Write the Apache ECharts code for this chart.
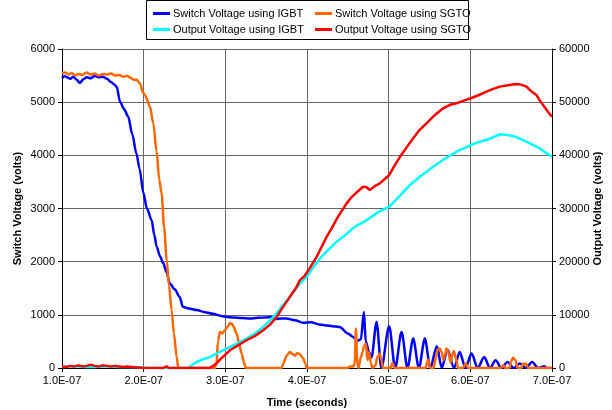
<!DOCTYPE html>
<html>
<head>
<meta charset="utf-8">
<script src="https://cdn.jsdelivr.net/npm/echarts@6/dist/echarts.min.js"></script>
<style>
html,body{margin:0;padding:0;background:#fff;}
#chart{width:612px;height:410px;}
</style>
</head>
<body>
<div id="chart"></div>
<script>
// Time in units of 1e-9 s (ns); tick labels shown in E-07 form
const xTickLabels = ['1.0E-07','2.0E-07','3.0E-07','4.0E-07','5.0E-07','6.0E-07','7.0E-07'];
const seriesNames = ['Switch Voltage using IGBT','Switch Voltage using SGTO','Output Voltage using IGBT','Output Voltage using SGTO'];

// Switch Voltage using IGBT (left axis, volts)
const switchIGBT = [
 [100,5450],[103,5490],[106,5470],[110,5440],[114,5480],[118,5420],[122,5360],[126,5430],[130,5470],
 [135,5450],[140,5490],[145,5470],[150,5480],[155,5440],[160,5380],[164,5330],[167,5290],[171,5010],
 [176,4870],[181,4730],[186,4400],[191,4040],[195,3750],[199.5,3300],[204,3000],[209.8,2780],[213,2500],
 [216,2280],[220,2100],[224,1970],[228,1800],[232,1590],[238,1480],[244,1340],[248,1150],[255,1120],
 [265,1090],[275,1050],[285,1020],[295,980],[302,960],[310,950],[320,940],[330,930],[340,945],[350,950],
 [355,960],[362,920],[368,930],[375,930],[385,900],[395,850],[405,860],[415,820],[425,800],[435,780],
 [440,770],[450,650],[456,590],[462,510],[466,540],[469.6,1055],[472,500],[476,300],[479,200],
 [485.2,866],[491,0],[500.6,785],[508,0],[515.8,678],[523,0],[530,553],[537,0],[544.3,553],[551,0],
 [559,409],[565,0],[572,346],[580,0],[587,301],[594,0],[601.5,271],[609,0],[617,207],[624,0],
 [631,145],[638,0],[645.6,113],[653,0],[660.6,83],[668,0],[675.7,113],[683,0],[690.4,32],[693,0],[700,0]
];

// Switch Voltage using SGTO (left axis, volts)
const switchSGTO = [
 [100,5540],[104,5560],[108,5520],[112,5550],[116,5500],[120,5530],[125,5510],[130,5560],[135,5520],
 [140,5540],[145,5500],[150,5530],[155,5520],[160,5540],[165,5500],[170,5510],[175,5480],[180,5490],
 [185,5450],[188,5420],[191.4,5420],[195.5,5350],[199,5180],[201.6,5136],[204,5050],[207.7,4915],
 [211.8,4600],[215.9,4070],[219,3550],[222,3284],[225,2650],[228.2,2028],[231,1550],[234.3,1087],
 [237,650],[240.4,207],[242.4,0],[250,0],[270,0],[287,0],[289,80],[291,500],[293.4,678],[296,650],
 [299.5,710],[303,780],[305.5,840],[307.7,836],[310,780],[313.8,648],[317,450],[319.9,271],[323,100],
 [325.2,0],[340,0],[369,0],[371,83],[375,230],[379,301],[382,270],[385.2,230],[388,280],[391.3,260],
 [395.4,177],[398,80],[399.5,0],[450,0],[453,30],[457,30],[458.5,100],[459.9,742],[461.5,100],[463,0],
 [466,200],[468,300],[470,420],[472.1,459],[474,150],[476.2,301],[478,100],[480,0],[484,50],[486,200],
 [489.2,271],[491,150],[493,0],[502,0],[504.8,94],[507,0],[545,0],[548.4,158],[551,0],[555,0],
 [558,200],[560,350],[562.7,365],[565,300],[567,150],[569,250],[570.9,365],[573,300],[576,100],
 [578,250],[579.8,320],[582,200],[585,0],[591,0],[594.5,94],[597,0],[637,0],[640.2,51],[643,0],
 [648,0],[650,120],[652.4,196],[655,150],[658,0],[662,0],[664.6,83],[666,60],[668,83],[671,0],[700,0]
];

// Output Voltage using IGBT (right axis, volts)
const outputIGBT = [
 [100,200],[110,300],[120,300],[130,200],[140,200],[150,300],[160,300],[170,200],[180,200],[190,200],
 [200,100],[205,0],[254.6,0],[260,600],[264.9,1130],[272,1600],[281.2,2070],[290,2800],[301.6,3650],
 [313,4500],[326,5530],[336,6500],[346.4,7720],[355,9000],[362.8,10240],[370,11700],[379,13370],
 [391.3,15890],[399.5,17140],[408,19000],[415.8,20600],[426,22200],[435,23600],[444.3,24670],
 [458,26500],[473,27810],[487,29300],[500.6,30320],[513,32300],[526,34410],[540,36200],[554.5,37850],
 [568,39300],[583.1,40680],[600.6,41940],[610,42500],[619.8,42880],[628,43400],[636.1,43950],
 [645,43800],[652.4,43630],[660,43200],[668.8,42560],[676,42000],[685,41320],[692,40500],[700,39740]
];

// Output Voltage using SGTO (right axis, volts)
const outputSGTO = [
 [100,300],[105,200],[110,400],[115,300],[120,500],[125,300],[130,400],[135,600],[140,400],[145,300],
 [150,500],[155,400],[160,300],[165,400],[170,300],[175,200],[180,300],[185,200],[190,100],[195,100],
 [200,0],[224,0],[228,300],[231,0],[281,0],[285,400],[290,1000],[295,1800],[300,2500],[305.6,3330],
 [315,4200],[326,5220],[336,6000],[346.4,7100],[355,8200],[362.8,9600],[370,11300],[379,13370],
 [387,15200],[391.3,16520],[397,17300],[403,18700],[411.8,20900],[418,22800],[424,24670],[430,26200],
 [437,28200],[448.5,30960],[455,32200],[462,33200],[468.8,34090],[473,34000],[477,33470],[483,34200],
 [489.2,34730],[495,35500],[500.6,36290],[507,38000],[514,39740],[522,41500],[530,43200],[538,44800],
 [546.4,46030],[556,47500],[566.7,48850],[575,49500],[583.1,49790],[592,50300],[600.6,50730],
 [610,51300],[619.8,51980],[628,52500],[636.1,52920],[646,53200],[656.5,53420],[662,53300],
 [668.8,52920],[675,52000],[681,51360],[685,50300],[689.1,49470],[695,48200],[700,47270]
];

const colors = ['#0000FF','#FF6600','#00FFFF','#FF0000'];
const FONT = '"Liberation Sans", Arial, sans-serif';

const chart = echarts.init(document.getElementById('chart'), null, {renderer:'canvas'});
const gridLine = {show:true, lineStyle:{color:'#666', width:1}};
const lineSeries = (name, data, color, yIdx, smooth) => ({
  name, type:'line', data, yAxisIndex:yIdx, showSymbol:false, symbol:'none',
  smooth: smooth, smoothMonotone:'x',
  lineStyle:{color, width:2.5}, itemStyle:{color}, emphasis:{disabled:true}
});

chart.setOption({
  animation:false,
  color: colors,
  textStyle:{fontFamily:FONT},
  grid:{left:62, right:60, top:49, bottom:42, containLabel:false, outerBoundsMode:'none'},
  graphic:[{type:'rect', shape:{x:146.5, y:0.5, width:322, height:39}, style:{fill:'#fff', stroke:'#000', lineWidth:1}, z:-1}],
  legend:[
    {data:[seriesNames[0], seriesNames[2]], orient:'vertical', left:148, top:3, itemGap:5,
     icon:'rect', itemWidth:17, itemHeight:3, textStyle:{fontFamily:FONT, fontSize:11, color:'#000', padding:[0,0,0,-2]}},
    {data:[seriesNames[1], seriesNames[3]], orient:'vertical', left:310, top:3, itemGap:5,
     icon:'rect', itemWidth:17, itemHeight:3, textStyle:{fontFamily:FONT, fontSize:11, color:'#000', padding:[0,0,0,-2]}}
  ],
  xAxis:{
    type:'value', min:100, max:700, interval:100,
    name:'Time (seconds)', nameLocation:'middle', nameGap:29, nameMoveOverlap:false,
    nameTextStyle:{fontFamily:FONT, fontSize:11, fontWeight:'bold', color:'#000'},
    axisLine:{show:true, onZero:false, lineStyle:{color:'#000', width:1}},
    axisTick:{show:true, inside:false, length:4, lineStyle:{color:'#000'}},
    axisLabel:{fontFamily:FONT, fontSize:11, color:'#000', margin:7,
      formatter:(v)=> xTickLabels[Math.round((v-100)/100)] || ''},
    splitLine:gridLine
  },
  yAxis:[
    {type:'value', min:0, max:6000, interval:1000, position:'left',
     name:'Switch Voltage (volts)', nameLocation:'middle', nameGap:39, nameRotate:90, nameMoveOverlap:false,
     nameTextStyle:{fontFamily:FONT, fontSize:11, fontWeight:'bold', color:'#000'},
     axisLine:{show:true, lineStyle:{color:'#000', width:1}},
     axisTick:{show:true, length:4, lineStyle:{color:'#000'}},
     axisLabel:{fontFamily:FONT, fontSize:11, color:'#000', margin:7, formatter:(v)=>String(v)},
     splitLine:gridLine},
    {type:'value', min:0, max:60000, interval:10000, position:'right',
     name:'Output Voltage (volts)', nameLocation:'middle', nameGap:40, nameRotate:90, nameMoveOverlap:false,
     nameTextStyle:{fontFamily:FONT, fontSize:11, fontWeight:'bold', color:'#000'},
     axisLine:{show:true, lineStyle:{color:'#000', width:1}},
     axisTick:{show:true, length:4, lineStyle:{color:'#000'}},
     axisLabel:{fontFamily:FONT, fontSize:11, color:'#000', margin:7, formatter:(v)=>String(v)},
     splitLine:{show:false}}
  ],
  series:[
    lineSeries(seriesNames[0], switchIGBT, colors[0], 0, 0.3),
    lineSeries(seriesNames[1], switchSGTO, colors[1], 0, 0.3),
    lineSeries(seriesNames[2], outputIGBT, colors[2], 1, false),
    lineSeries(seriesNames[3], outputSGTO, colors[3], 1, false)
  ]
});
</script>
</body>
</html>
